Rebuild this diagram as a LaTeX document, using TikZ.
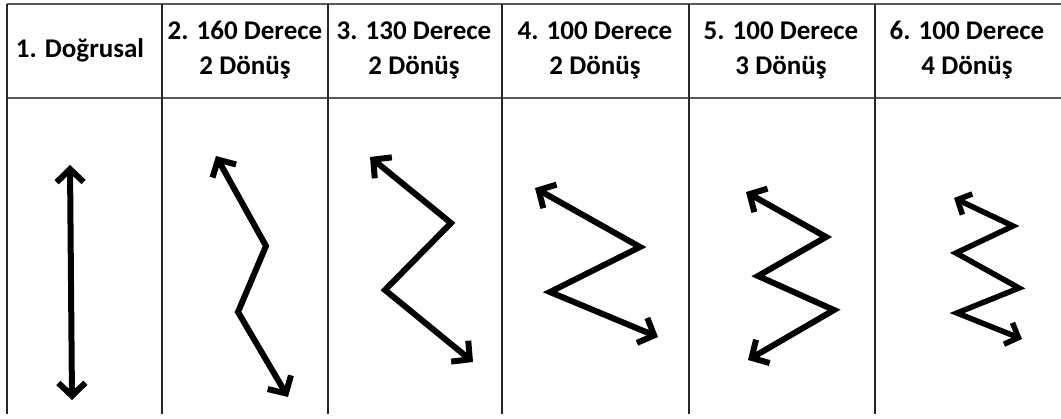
\documentclass[tikz,border=0pt]{standalone}
\usepackage{fontspec}
\setmainfont{Carlito}
\usetikzlibrary{arrows.meta}
\begin{document}
\begin{tikzpicture}[x=1pt,y=-1pt,
  head/.style={font=\bfseries\fontsize{27}{35}\selectfont, align=center, anchor=base, inner sep=0pt},
  grid/.style={line width=1.8pt, draw=black!85},
  hline/.style={line width=1.6pt, draw=black!65},
  zig/.style={line width=6pt, line join=miter, {Straight Barb[length=13pt,width=27pt]}-{Straight Barb[length=13pt,width=27pt]}},
  zigs/.style={line width=5.5pt, line join=miter, {Straight Barb[length=11pt,width=23pt]}-{Straight Barb[length=11pt,width=23pt]}}]
\useasboundingbox (0,0) rectangle (1061,418);
\fill[white] (0,0) rectangle (1061,418);
% table lines
\draw[hline] (7,4) -- (1061,4);
\draw[hline] (7,98) -- (1061,98);
\foreach \x in {7,162,328,502,689,875} \draw[grid] (\x,4) -- (\x,414);
% header texts
\node[head] (h1) at (80,57) {1. Doğrusal};
\node[head] (h2) at (245,74) {2. 160 Derece\\2 Dönüş};
\node[head] (h3) at (414,74) {3. 130 Derece\\2 Dönüş};
\node[head] (h4) at (595,74) {4. 100 Derece\\2 Dönüş};
\node[head] (h5) at (781,74) {5. 100 Derece\\3 Dönüş};
\node[head] (h6) at (967,74) {6. 100 Derece\\4 Dönüş};
% arrows
\draw[zig] (70,165) -- (72,400);
\draw[zig] (216,156) -- (266,246) -- (238,312) -- (288,397);
\draw[zig] (370,157) -- (451,223) -- (385,290) -- (473,362);
\draw[zig] (535,188) -- (640,247) -- (550,292) -- (658,337);
\draw[zig] (746,192) -- (826,237) -- (758,276) -- (834,310) -- (748,360);
\draw[zigs] (954,198) -- (1013,226) -- (956,253) -- (1019,288) -- (957,313) -- (1022,339);
\end{tikzpicture}
\end{document}
